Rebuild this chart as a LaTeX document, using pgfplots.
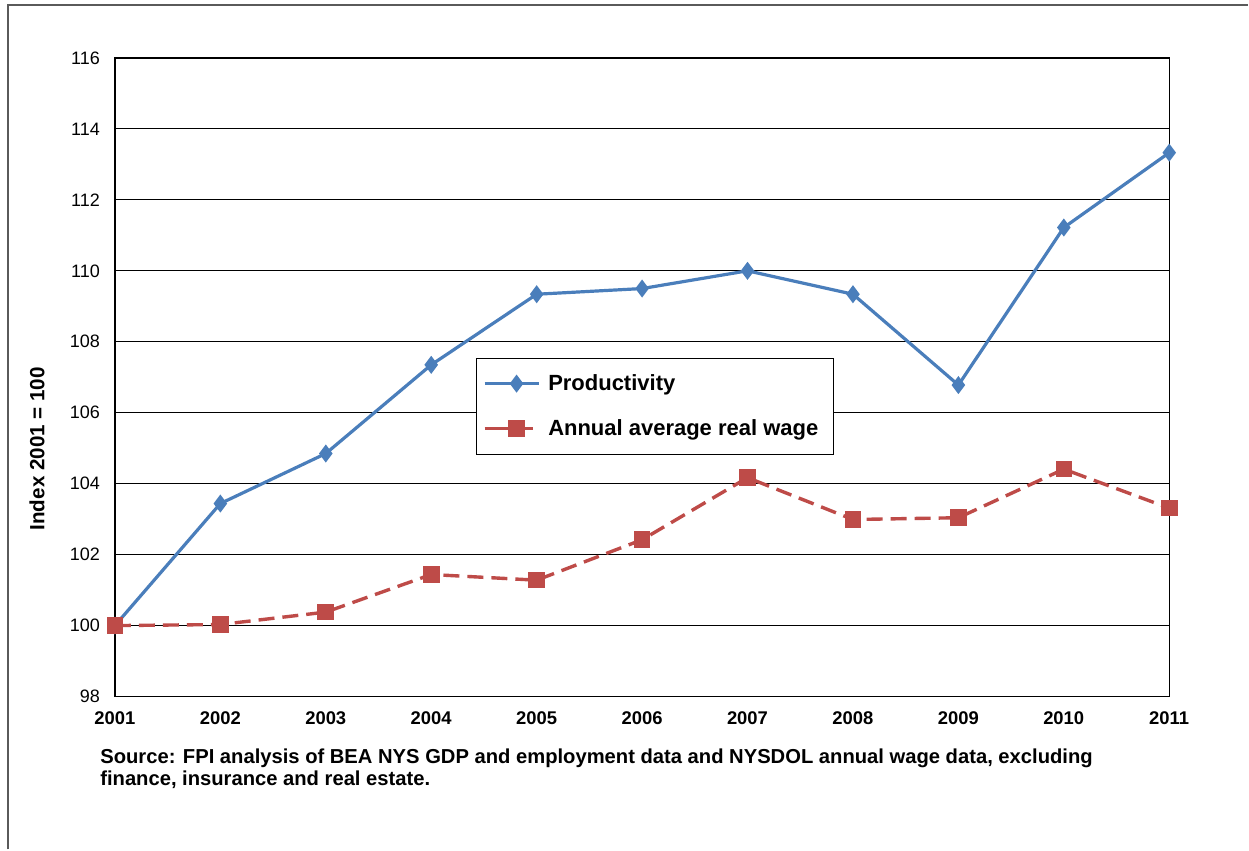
\documentclass[border=0pt]{standalone}
\usepackage{pgfplots}
\pgfplotsset{compat=1.18}
\usepackage{fontspec}
\setmainfont{Liberation Sans}
\definecolor{prodblue}{RGB}{74,126,187}
\definecolor{wagered}{RGB}{190,75,72}
\definecolor{framegray}{RGB}{90,90,90}

\begin{document}
\begin{tikzpicture}
% page extent and outer frame
\path (0,0) rectangle (624.5pt,425pt);
\draw[framegray, line width=0.8pt] (4pt,0) -- (4pt,422.5pt) -- (624.5pt,422.5pt);

\begin{axis}[
  at={(57.5pt,76.5pt)}, anchor=south west,
  scale only axis,
  width=527.5pt, height=319.5pt,
  xmin=2001, xmax=2011, ymin=98, ymax=116,
  xtick={2001,...,2011}, ytick={98,100,...,116},
  major tick length=0pt,
  axis line style={black, line width=0.7pt},
  ymajorgrids, major grid style={black, line width=0.5pt},
  /pgf/number format/assume math mode=true,
  xticklabel style={font=\fontsize{9.2}{10}\selectfont\bfseries},
  yticklabel style={font=\fontsize{9}{10}\selectfont},
  xticklabel={\pgfmathprintnumber[1000 sep={}]{\tick}},
  yticklabel shift=4pt,
  xticklabel shift=4pt,
  ylabel={Index 2001 = 100},
  ylabel style={font=\fontsize{10.3}{11}\selectfont\bfseries, at={(axis description cs:-0.074,0.388)}, anchor=center},
  legend style={at={(axis description cs:0.342,0.5305)}, anchor=north west,
    draw=black, line width=0.4pt, fill=white, font=\fontsize{11}{13}\selectfont\bfseries,
    inner xsep=3.5pt, inner ysep=6pt, row sep=9pt,
    nodes={inner xsep=4pt}},
  legend cell align=left,
  legend image code/.code={%
    \path (0pt,0pt) -- (5pt,0pt);
    \draw[#1] (5pt,0pt) -- (16pt,0pt) plot coordinates {(16pt,0pt)} -- (27pt,0pt);},
  clip=false,
]
\addplot[prodblue, line width=1.6pt, mark=diamond*, mark size=3.2pt, mark options={solid}]
  coordinates {(2001,100) (2002,103.44) (2003,104.85) (2004,107.35) (2005,109.34)
    (2006,109.5) (2007,110.0) (2008,109.34) (2009,106.78) (2010,111.22) (2011,113.33)};
\addlegendentry{Productivity}
\addplot[wagered, line width=1.7pt, dash pattern=on 8pt off 4pt, mark=square*, mark size=3.3pt, mark options={solid}]
  coordinates {(2001,100) (2002,100.03) (2003,100.38) (2004,101.44) (2005,101.28)
    (2006,102.42) (2007,104.17) (2008,102.99) (2009,103.04) (2010,104.41) (2011,103.31)};
\addlegendentry{Annual average real wage}
\end{axis}

\node[anchor=north west, align=left, font=\fontsize{10.1}{11.2}\selectfont\bfseries, inner sep=0pt]
  at (50pt,50.5pt) {Source: FPI analysis of BEA NYS GDP and employment data and NYSDOL annual wage data, excluding\\finance, insurance and real estate.};
\end{tikzpicture}
\end{document}
